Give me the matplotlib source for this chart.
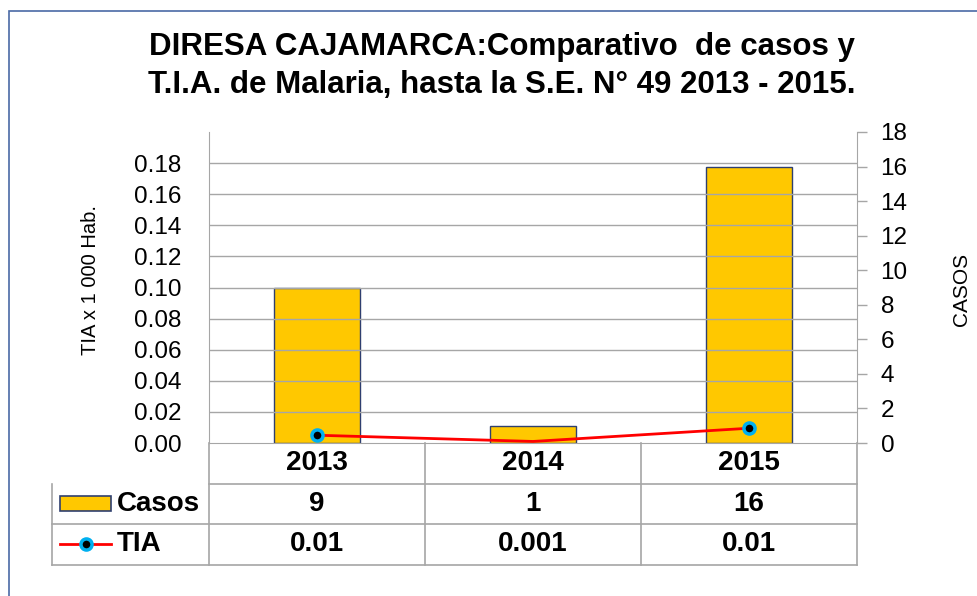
import matplotlib.pyplot as plt
import matplotlib.patches as mpatches
import matplotlib.transforms as mtransforms
from matplotlib.lines import Line2D

plt.rcParams["font.family"] = ["Liberation Sans", "DejaVu Sans"]

# Data
years = ["2013", "2014", "2015"]
casos = [9, 1, 16]
tia = [0.005, 0.001, 0.0095]
tia_labels = ["0.01", "0.001", "0.01"]

BAR_COLOR = "#FFC800"
BAR_EDGE = "#2F3F6F"
LINE_COLOR = "#FF0000"
MARK_EDGE = "#00B0F0"
GRID = "#A6A6A6"

W, H = 977, 596
fig = plt.figure(figsize=(W / 100, H / 100), dpi=100)

# outer frame
fig.patches.append(mpatches.Rectangle((9 / W, -0.05), 1.2, 1 - 11 / H + 0.05,
                                      transform=fig.transFigure, fill=False,
                                      edgecolor="#4A6AA5", linewidth=1.2))

left, right, top, bottom = 209, 857, 132, 443
ax = fig.add_axes([left / W, 1 - bottom / H, (right - left) / W, (bottom - top) / H])
ax2 = ax.twinx()

x = list(range(len(years)))

# bars on the right (CASOS) axis
ax2.bar(x, casos, width=0.4, color=BAR_COLOR, edgecolor=BAR_EDGE, linewidth=1.0, zorder=2)
ax2.set_ylim(0, 18)
ax2.set_yticks(range(0, 19, 2))
ax2.tick_params(axis="y", labelsize=17.5, length=7, width=1, color=GRID, pad=10)
for s in ["top", "left", "bottom"]:
    ax2.spines[s].set_visible(False)
ax2.spines["right"].set_color(GRID)

# line on the left (TIA) axis, drawn above the bars
ax.set_zorder(ax2.get_zorder() + 1)
ax.patch.set_visible(False)
ax.plot(x, tia, color=LINE_COLOR, lw=2, marker="o", markersize=8,
        markerfacecolor="black", markeredgecolor=MARK_EDGE, markeredgewidth=2.5,
        markevery=[0, 2], zorder=3, clip_on=False)
ax.set_ylim(0, 0.2)
yt = [i * 0.02 for i in range(10)]
ax.set_yticks(yt)
ax.set_yticklabels([f"{v:.2f}" for v in yt])
ax.tick_params(axis="y", labelsize=17.5, length=0, pad=20)
ax.set_xlim(-0.5, 2.5)
ax.set_xticks([])
for g in yt[1:]:
    ax.axhline(g, color=GRID, lw=1, zorder=0)
for s in ["top", "right"]:
    ax.spines[s].set_visible(False)
ax.spines["left"].set_color(GRID)
ax.spines["bottom"].set_color(GRID)

# data table below the plot
trans = mtransforms.blended_transform_factory(ax.transData, ax.transAxes)
row_h = 40.5 / (bottom - top)
x_leg = -0.5 - (left - 52) / 216
line_kw = dict(color=GRID, lw=1.2, transform=trans, clip_on=False)
for i in range(1, 4):
    x0 = x_leg if i > 1 else -0.5
    ax.add_line(Line2D([x0, 2.5], [-i * row_h] * 2, **line_kw))
ax.add_line(Line2D([x_leg, x_leg], [-row_h, -3 * row_h], **line_kw))
for xv in [-0.5, 0.5, 1.5, 2.5]:
    ax.add_line(Line2D([xv, xv], [0, -3 * row_h], **line_kw))

TFS = 20
for i, yr in enumerate(years):
    ax.text(i, -0.5 * row_h, yr, transform=trans, ha="center", va="center",
            fontsize=TFS, fontweight="bold")
    ax.text(i, -1.5 * row_h, str(casos[i]), transform=trans, ha="center",
            va="center", fontsize=TFS, fontweight="bold")
    ax.text(i, -2.5 * row_h, tia_labels[i], transform=trans, ha="center",
            va="center", fontsize=TFS, fontweight="bold")

# legend keys inside the table
k0, k1 = x_leg + 8 / 216, x_leg + 59 / 216
ax.add_patch(mpatches.Rectangle((k0, -1.5 * row_h - 7.5 / 311), k1 - k0, 15 / 311,
                                transform=trans, clip_on=False, facecolor=BAR_COLOR,
                                edgecolor=BAR_EDGE, linewidth=1.2))
ax.add_line(Line2D([k0, k1], [-2.5 * row_h] * 2, color=LINE_COLOR, lw=2,
                   transform=trans, clip_on=False))
ax.add_line(Line2D([(k0 + k1) / 2], [-2.5 * row_h], marker="o", markersize=8,
                   markerfacecolor="black", markeredgecolor=MARK_EDGE,
                   markeredgewidth=2.5, transform=trans, clip_on=False))
ax.text(x_leg + 65 / 216, -1.5 * row_h, "Casos", transform=trans, ha="left",
        va="center", fontsize=TFS, fontweight="bold")
ax.text(x_leg + 65 / 216, -2.5 * row_h, "TIA", transform=trans, ha="left",
        va="center", fontsize=TFS, fontweight="bold")

# axis titles
fig.text(91 / W, 1 - 280 / H, "TIA x 1 000 Hab.", rotation=90, ha="center",
         va="center", fontsize=14.5)
fig.text(962 / W, 1 - 289 / H, "CASOS", rotation=90, ha="center",
         va="center", fontsize=15)

# title
fig.text(502 / W, 1 - 66 / H,
         "DIRESA CAJAMARCA:Comparativo  de casos y\nT.I.A. de Malaria, hasta la S.E. N° 49 2013 - 2015.",
         ha="center", va="center", fontsize=22.5, fontweight="bold", linespacing=1.32)

fig.savefig("out.png", dpi=100)
